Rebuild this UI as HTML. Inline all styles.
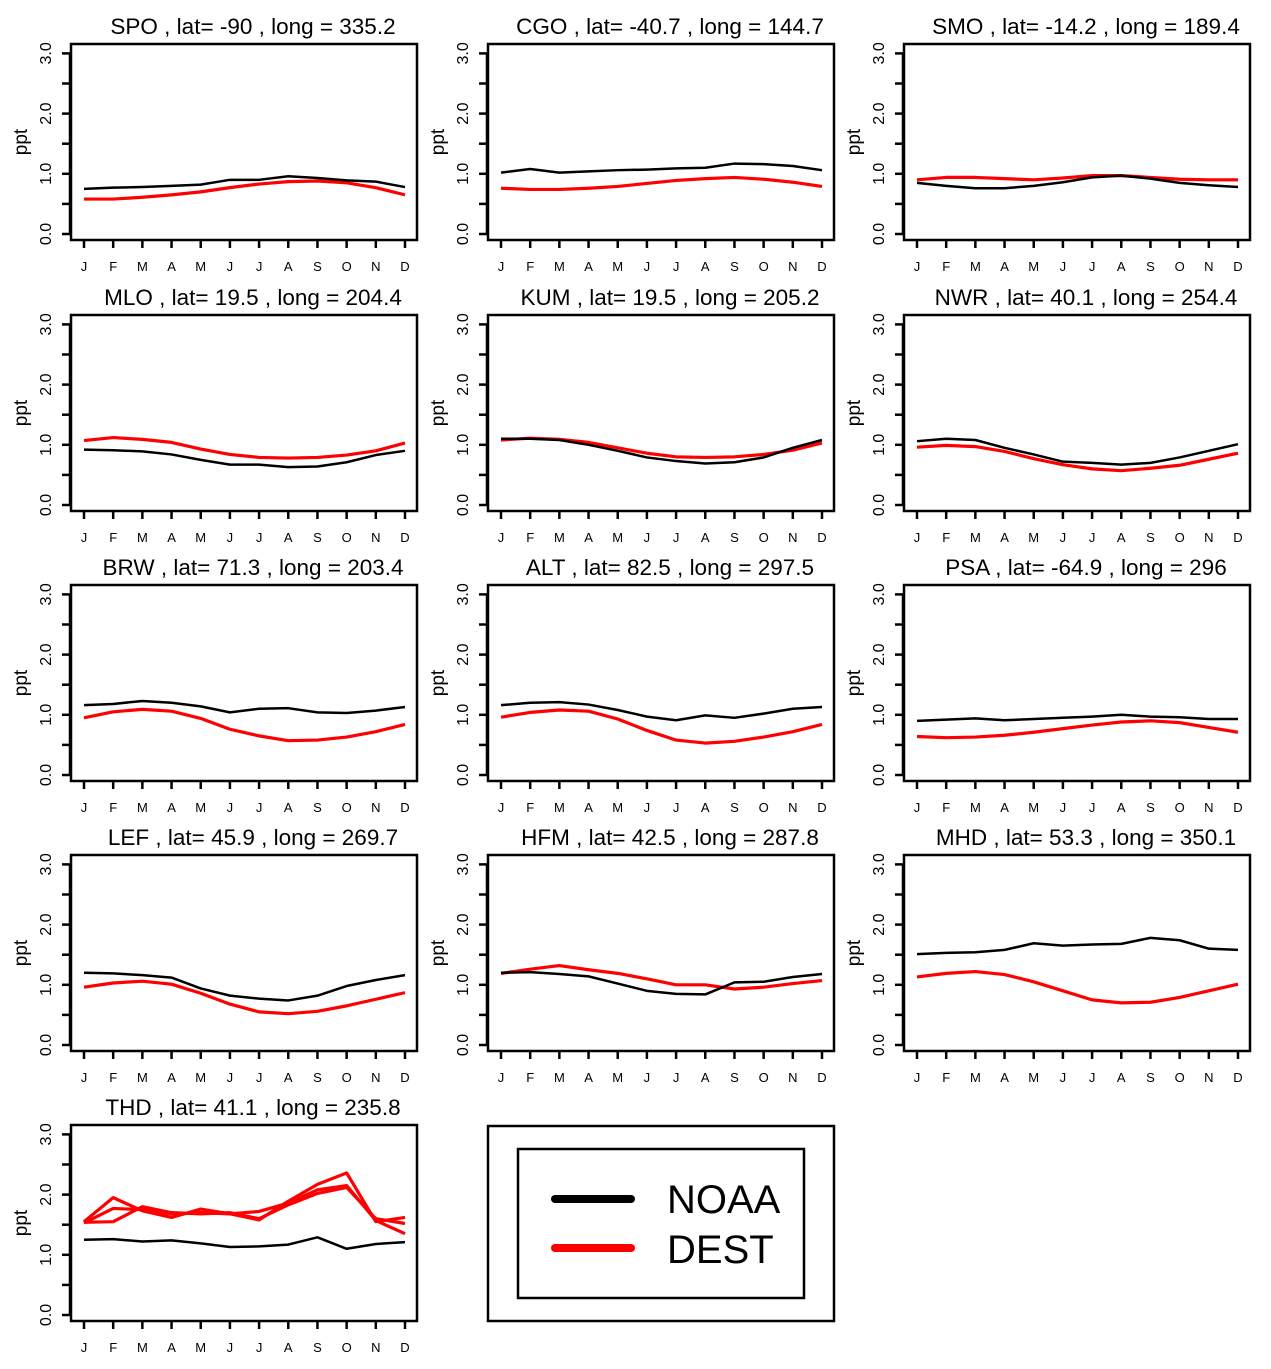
<!DOCTYPE html>
<html><head><meta charset="utf-8"><style>
body{margin:0;background:#fff}
svg{display:block;font-family:"Liberation Sans",sans-serif}
</style></head><body>
<svg id="chart" width="1271" height="1369" viewBox="0 0 1271 1369" xmlns="http://www.w3.org/2000/svg"></svg>
<script>
const months = ["J","F","M","A","M","J","J","A","S","O","N","D"];
const yTicks = [0,0.5,1,1.5,2,2.5,3];
const yLabels = ["0.0","1.0","2.0","3.0"];
const stations = ["SPO , lat= -90 , long = 335.2","CGO , lat= -40.7 , long = 144.7","SMO , lat= -14.2 , long = 189.4",
"MLO , lat= 19.5 , long = 204.4","KUM , lat= 19.5 , long = 205.2","NWR , lat= 40.1 , long = 254.4",
"BRW , lat= 71.3 , long = 203.4","ALT , lat= 82.5 , long = 297.5","PSA , lat= -64.9 , long = 296",
"LEF , lat= 45.9 , long = 269.7","HFM , lat= 42.5 , long = 287.8","MHD , lat= 53.3 , long = 350.1",
"THD , lat= 41.1 , long = 235.8"];
const noaa = [
[.75,.77,.78,.80,.82,.90,.90,.96,.93,.89,.87,.78],
[1.02,1.08,1.02,1.04,1.06,1.07,1.09,1.10,1.17,1.16,1.13,1.06],
[.85,.80,.76,.76,.80,.86,.94,.97,.92,.85,.81,.78],
[.92,.91,.89,.84,.75,.67,.67,.63,.64,.71,.83,.90],
[1.10,1.10,1.08,1.00,.90,.79,.73,.69,.71,.79,.95,1.08],
[1.06,1.10,1.08,.95,.84,.72,.70,.67,.70,.79,.90,1.01],
[1.16,1.18,1.23,1.20,1.14,1.04,1.10,1.11,1.04,1.03,1.07,1.13],
[1.16,1.20,1.21,1.17,1.08,.97,.91,.99,.95,1.02,1.10,1.13],
[.90,.92,.94,.91,.93,.95,.97,1.00,.97,.96,.93,.93],
[1.20,1.19,1.16,1.12,.94,.82,.77,.74,.82,.98,1.08,1.16],
[1.20,1.21,1.18,1.14,1.02,.90,.85,.84,1.04,1.05,1.13,1.18],
[1.51,1.53,1.54,1.58,1.69,1.65,1.67,1.68,1.78,1.74,1.60,1.58],
[1.25,1.26,1.22,1.24,1.19,1.13,1.14,1.17,1.29,1.10,1.18,1.21]];
const dest = [
[[.58,.58,.61,.65,.70,.77,.83,.87,.88,.85,.77,.65]],
[[.76,.74,.74,.76,.79,.84,.89,.92,.94,.91,.86,.79]],
[[.90,.94,.94,.92,.90,.93,.97,.97,.94,.91,.90,.90]],
[[1.07,1.12,1.09,1.04,.93,.84,.79,.78,.79,.83,.90,1.03]],
[[1.08,1.11,1.09,1.04,.95,.86,.80,.79,.80,.84,.91,1.03]],
[[.96,.99,.97,.89,.77,.67,.60,.57,.61,.66,.76,.86]],
[[.95,1.05,1.09,1.06,.94,.76,.65,.57,.58,.63,.72,.84]],
[[.96,1.04,1.08,1.06,.93,.74,.58,.53,.56,.63,.72,.84]],
[[.64,.62,.63,.66,.71,.77,.83,.88,.90,.87,.79,.71]],
[[.96,1.03,1.06,1.01,.86,.68,.55,.52,.56,.65,.76,.87]],
[[1.19,1.26,1.32,1.25,1.19,1.10,1.00,1.00,.93,.96,1.02,1.07]],
[[1.13,1.19,1.22,1.17,1.05,.90,.75,.70,.71,.79,.90,1.01]],
[[1.55,1.95,1.73,1.62,1.76,1.68,1.58,1.89,2.17,2.36,1.55,1.62],
 [1.53,1.77,1.75,1.68,1.70,1.68,1.72,1.86,2.08,2.15,1.57,1.35],
 [1.54,1.55,1.80,1.70,1.68,1.70,1.60,1.83,2.02,2.12,1.60,1.52]]];

const NS="http://www.w3.org/2000/svg";
const svg=document.getElementById('chart');
function mk(tag,attrs,parent){const e=document.createElementNS(NS,tag);for(const k in attrs)e.setAttribute(k,attrs[k]);(parent||svg).appendChild(e);return e;}
const colX=[71,488,904], rowY=[44,315,585,855,1125];
stations.forEach((name,i)=>{
  const bx=colX[i%3], by=rowY[Math.floor(i/3)];
  const g=mk('g',{});
  
  
  const xs=m=>bx+13+m*(321/11);
  const ys=v=>by+190-v*60.2;
  const t=mk('text',{x:bx+182,y:by-10,'text-anchor':'middle','font-size':22.5},g);t.textContent=name;
  
  
  const box=mk('rect',{x:bx,y:by,width:346,height:196,fill:'none',stroke:'#000','stroke-width':2.5},g);
  
  
  mk('line',{x1:bx-1,x2:bx-1,y1:ys(3),y2:ys(0),stroke:'#000','stroke-width':2.5},g);
  yTicks.forEach(v=>mk('line',{x1:bx-9,x2:bx-1,y1:ys(v),y2:ys(v),stroke:'#000','stroke-width':2.5},g));
  yLabels.forEach((l,k)=>{const tx=mk('text',{transform:`translate(${bx-20},${ys(k)}) rotate(-90)`,'text-anchor':'middle','font-size':16},g);tx.textContent=l;
    
    });
  const yl=mk('text',{transform:`translate(${bx-44},${by+98}) rotate(-90)`,'text-anchor':'middle','font-size':19},g);yl.textContent='ppt';
  
  
  months.forEach((m,k)=>{mk('line',{x1:xs(k),x2:xs(k),y1:by+197,y2:by+204,stroke:'#000','stroke-width':2.5},g);
    const tx=mk('text',{x:xs(k),y:by+227,'text-anchor':'middle','font-size':13},g);tx.textContent=m;
    
    });
  dest[i].forEach(s=>{const p=mk('polyline',{points:s.map((v,k)=>xs(k)+','+ys(v)).join(' '),fill:'none',stroke:'#ff0000','stroke-width':3.2,'stroke-linejoin':'round'},g);
    
    });
  const p=mk('polyline',{points:noaa[i].map((v,k)=>xs(k)+','+ys(v)).join(' '),fill:'none',stroke:'#000','stroke-width':2.5,'stroke-linejoin':'round'},g);
  
  
});
const lg=mk('g',{});


mk('rect',{x:488,y:1126,width:346,height:195,fill:'none',stroke:'#000','stroke-width':2.5},lg);
mk('rect',{x:518,y:1149,width:286,height:149,fill:'none',stroke:'#000','stroke-width':2.5},lg);
mk('line',{x1:555,x2:631,y1:1199,y2:1199,stroke:'#000','stroke-width':8,'stroke-linecap':'round'},lg);
mk('line',{x1:555,x2:631,y1:1248,y2:1248,stroke:'#ff0000','stroke-width':8,'stroke-linecap':'round'},lg);
const t1=mk('text',{x:667,y:1213,'font-size':40},lg);t1.textContent='NOAA';


const t2=mk('text',{x:667,y:1263,'font-size':40},lg);t2.textContent='DEST';


</script>
</body></html>
